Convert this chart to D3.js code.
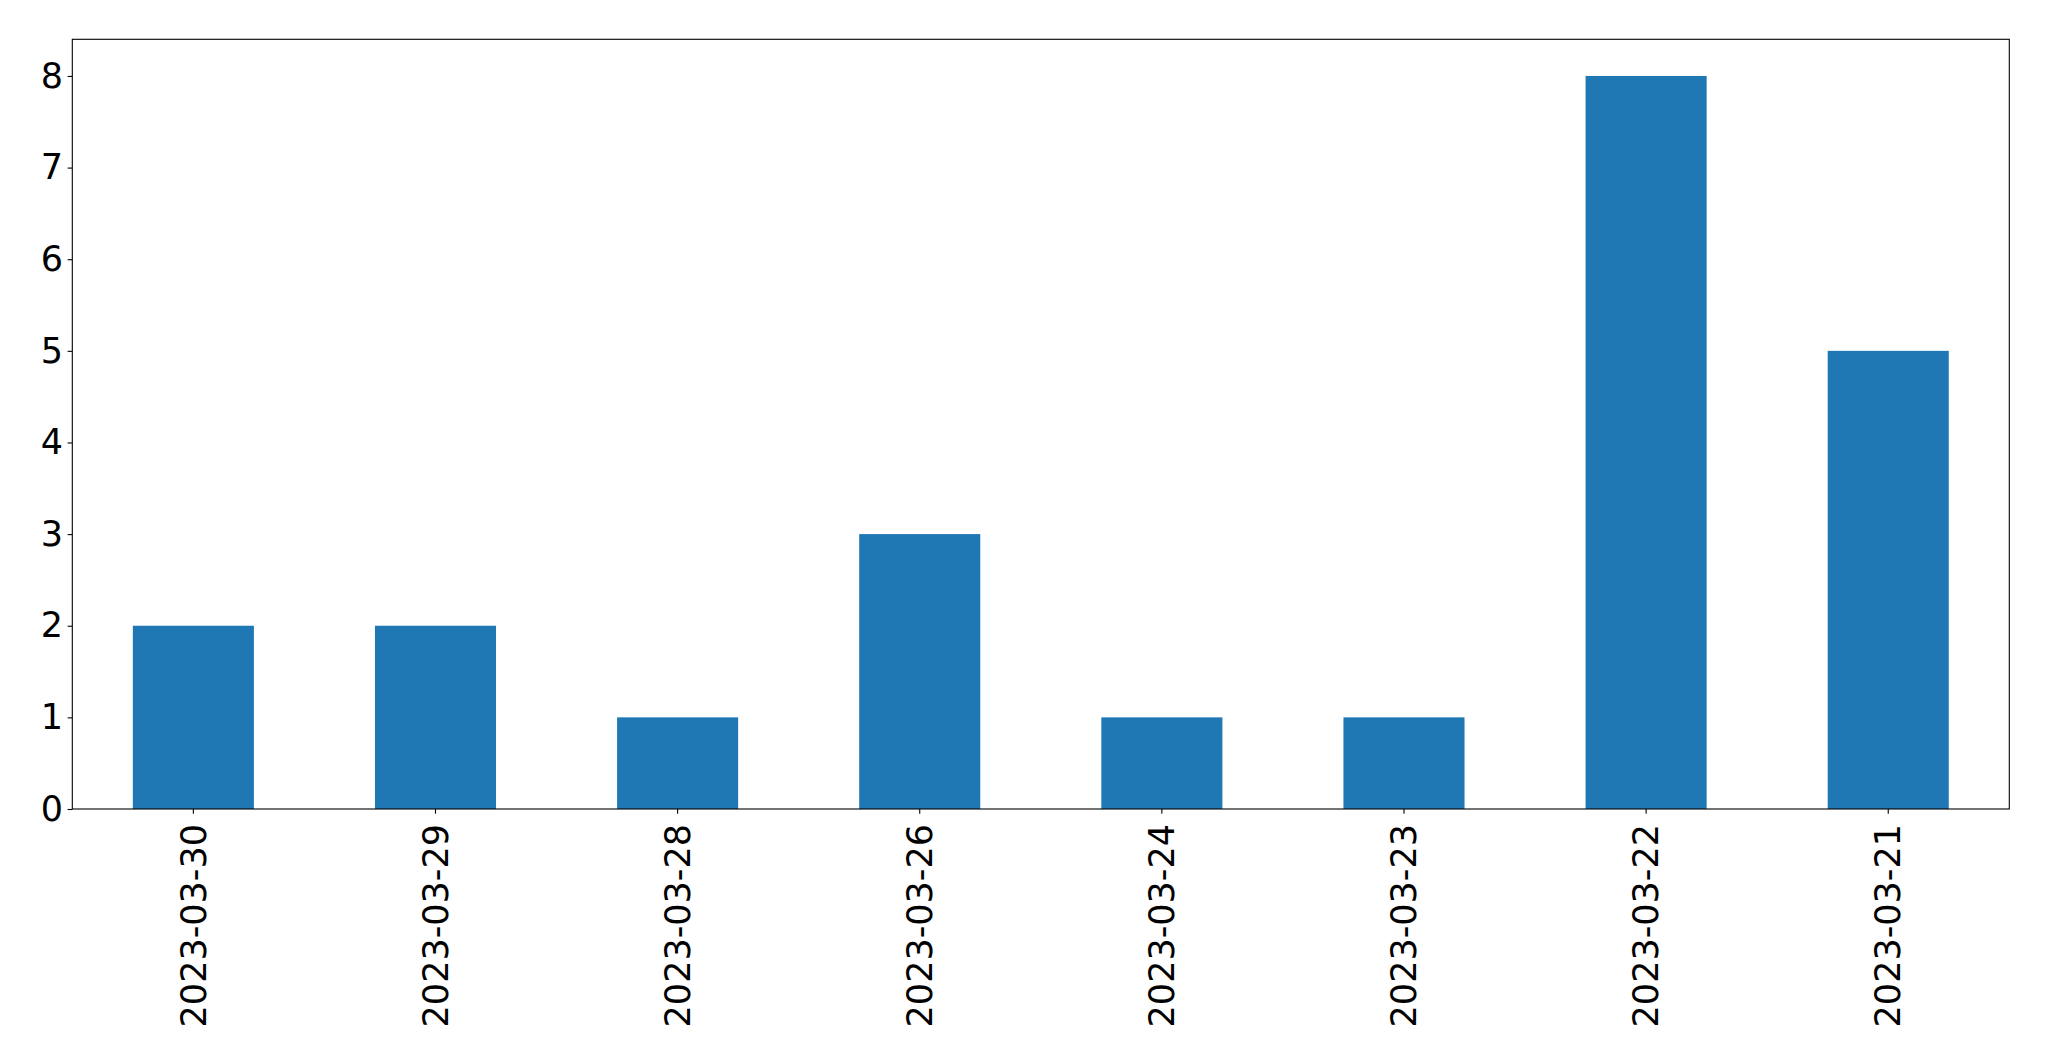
<!DOCTYPE html>
<html>
<head>
<meta charset="utf-8">
<script src="https://cdn.jsdelivr.net/npm/d3@7"></script>
<style>
  html, body { margin: 0; padding: 0; background: #fff; }
  svg { display: block; }
  text { font-family: "DejaVu Sans", sans-serif; fill: #000; }
</style>
</head>
<body>
<svg id="chart" width="2049" height="1061"></svg>
<script>
const categories = ["2023-03-30", "2023-03-29", "2023-03-28", "2023-03-26", "2023-03-24", "2023-03-23", "2023-03-22", "2023-03-21"];
const values = [2, 2, 1, 3, 1, 1, 8, 5];
const yTicks = [0, 1, 2, 3, 4, 5, 6, 7, 8];

const margin = { left: 72.3, top: 39.3, right: 2049 - 2009.3, bottom: 1061 - 809 };
const W = 2049, H = 1061;
const svg = d3.select("#chart");

const x = d3.scaleBand().domain(categories).range([margin.left, W - margin.right]).paddingInner(0).paddingOuter(0);
const y = d3.scaleLinear().domain([0, 8.4]).range([H - margin.bottom, margin.top]);

const barW = x.bandwidth() * 0.5;
svg.append("g").selectAll("rect").data(categories).join("rect")
  .attr("x", (d) => x(d) + x.bandwidth() / 2 - barW / 2)
  .attr("width", barW)
  .attr("y", (d, i) => y(values[i]))
  .attr("height", (d, i) => y(0) - y(values[i]))
  .attr("fill", "#1f77b4");

// Frame
svg.append("rect")
  .attr("x", margin.left).attr("y", margin.top)
  .attr("width", W - margin.right - margin.left)
  .attr("height", H - margin.bottom - margin.top)
  .attr("fill", "none").attr("stroke", "#000").attr("stroke-width", 1.1);

// Y axis
const yAxis = svg.append("g").attr("transform", `translate(${margin.left},0)`)
  .call(d3.axisLeft(y).tickValues(yTicks).tickFormat(d3.format("d")).tickSize(4.7).tickPadding(4.5));
yAxis.select(".domain").remove();
yAxis.selectAll("line").attr("stroke", "#000").attr("stroke-width", 1.1);
yAxis.selectAll("text").style("font-size", "35px").attr("fill", "#000");

// X axis
const xAxis = svg.append("g").attr("transform", `translate(0,${H - margin.bottom})`)
  .call(d3.axisBottom(x).tickSize(4.7).tickPadding(0));
xAxis.select(".domain").remove();
xAxis.selectAll("line").attr("stroke", "#000").attr("stroke-width", 1.1);
xAxis.selectAll("text")
  .style("font-size", "35px")
  .attr("fill", "#000")
  .attr("transform", "rotate(-90)")
  .attr("x", -15)
  .attr("y", 0)
  .attr("dy", "0.35em")
  .attr("text-anchor", "end");
</script>
</body>
</html>
